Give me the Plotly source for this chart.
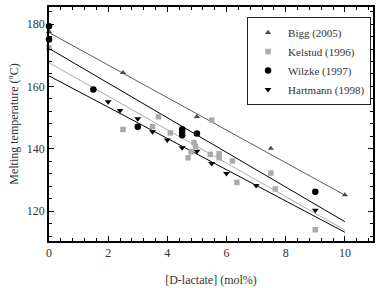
import plotly.graph_objects as go

# ---- data ----
bigg_x = [0, 2.5, 5, 7.5, 10]
bigg_y = [177.6, 164.4, 150.3, 140.1, 125.2]

kelstud_x = [0, 2.5, 3.5, 3.7, 4.1, 4.7, 4.8, 4.9, 4.95, 5.45, 5.5, 5.75, 5.75, 6.2, 6.35, 7.5, 7.65, 9]
kelstud_y = [172.4, 146.2, 147.1, 150.3, 145.1, 137.1, 139.0, 142.0, 140.8, 138.2, 149.2, 138.4, 137.1, 136.1, 129.2, 132.2, 127.1, 114.0]

wilzke_x = [0, 0, 1.5, 3, 4.5, 4.5, 4.5, 5, 9]
wilzke_y = [179.3, 175.1, 159.0, 147.1, 146.3, 145.2, 144.3, 144.9, 126.2]

hartmann_x = [2, 2.4, 3, 3.5, 4, 4.5, 5, 5.5, 6, 7, 9]
hartmann_y = [155.1, 152.3, 149.6, 145.5, 142.8, 140.3, 139.2, 135.3, 132.1, 128.2, 120.3]

fit_x = [0, 10]
bigg_fit = [177.3, 125.1]
wilzke_fit = [172.2, 116.6]
kelstud_fit = [167.6, 113.9]
hartmann_fit = [163.4, 113.2]

x_ticks = [0, 2, 4, 6, 8, 10]
y_ticks = [120, 140, 160, 180]

FONT = "'Liberation Serif', 'Times New Roman', Times, serif"
DARK = "#4a4a4a"
LIGHT = "#ababab"
TXT = "#333333"

fig = go.Figure()

# regression lines
for fy, col, w in [(bigg_fit, DARK, 0.9), (wilzke_fit, "black", 1.0),
                   (kelstud_fit, LIGHT, 1.0), (hartmann_fit, "black", 1.0)]:
    fig.add_trace(go.Scatter(x=fit_x, y=fy, mode="lines", line=dict(color=col, width=w),
                             showlegend=False, hoverinfo="skip"))

fig.add_trace(go.Scatter(x=bigg_x, y=bigg_y, mode="markers", name="Bigg (2005)",
                         marker=dict(symbol="triangle-up", size=5.5, color=DARK), cliponaxis=False))
fig.add_trace(go.Scatter(x=kelstud_x, y=kelstud_y, mode="markers", name="Kelstud (1996)",
                         marker=dict(symbol="square", size=5.5, color=LIGHT), cliponaxis=False))
fig.add_trace(go.Scatter(x=wilzke_x, y=wilzke_y, mode="markers", name="Wilzke (1997)",
                         marker=dict(symbol="circle", size=6.5, color="black"), cliponaxis=False))
fig.add_trace(go.Scatter(x=hartmann_x, y=hartmann_y, mode="markers", name="Hartmann (1998)",
                         marker=dict(symbol="triangle-down", size=6, color="black"), cliponaxis=False))

axis_common = dict(showline=True, linecolor="black", linewidth=1.5, mirror="allticks",
                   ticks="inside", ticklen=5, tickwidth=1, tickcolor="black",
                   showgrid=False, zeroline=False, automargin=False,
                   tickfont=dict(family=FONT, size=12, color=TXT))

fig.update_xaxes(range=[0, 10.95], tickvals=x_ticks, ticktext=[str(v) for v in x_ticks],
                 minor=dict(dtick=0.4, tick0=0, ticks="inside", ticklen=3, tickcolor="black"),
                 title=dict(text="[D-lactate] (mol%)", font=dict(family=FONT, size=12, color=TXT),
                            standoff=16),
                 **axis_common)
fig.update_yaxes(range=[110.4, 185.5], tickvals=y_ticks, ticktext=[str(v) for v in y_ticks],
                 minor=dict(dtick=4, tick0=0, ticks="inside", ticklen=3, tickcolor="black"),
                 title=dict(text="Melting temperature (<sup>o</sup>C)",
                            font=dict(family=FONT, size=12, color=TXT), standoff=6),
                 **axis_common)

fig.update_layout(
    width=377, height=288,
    margin=dict(l=49, r=4, t=7, b=47),
    paper_bgcolor="white", plot_bgcolor="white",
    font=dict(family=FONT, color=TXT),
    legend=dict(x=0.994, y=0.957, xanchor="right", yanchor="top",
                bordercolor="#222222", borderwidth=1, bgcolor="white",
                font=dict(family=FONT, size=11, color=TXT),
                tracegroupgap=0, itemwidth=30),
)

fig.write_html("out.html")
